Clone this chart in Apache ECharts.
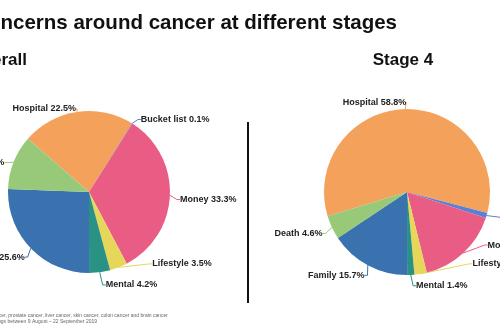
<!DOCTYPE html>
<html>
<head>
<meta charset="utf-8">
<script src="https://cdn.jsdelivr.net/npm/echarts@6/dist/echarts.min.js"></script>
<style>html,body{margin:0;padding:0;background:#fff}#c{width:500px;height:330px}</style>
</head>
<body>
<div id="c"></div>
<script>
var categoriesOverall = ['Hospital', 'Bucket list', 'Money', 'Lifestyle', 'Mental', 'Family', 'Death'];
var valuesOverall = [22.5, 0.1, 33.3, 3.5, 4.2, 25.6, 10.8];
var categoriesStage4 = ['Hospital', 'Bucket list', 'Money', 'Lifestyle', 'Mental', 'Family', 'Death'];
var valuesStage4 = [58.8, 1.0, 16.1, 2.4, 1.4, 15.7, 4.6];
var sliceColors = {
  'Hospital': '#F4A25B', 'Bucket list': '#5A7FD6', 'Money': '#E95D85',
  'Lifestyle': '#E6D75A', 'Mental': '#2A9185', 'Family': '#3A72B0', 'Death': '#98C978'
};
var titleText = 'Concerns around cancer at different stages';
var subtitleOverall = 'Overall';
var subtitleStage4 = 'Stage 4';
var footnote1 = 'cer, stomach cancer, prostate cancer, liver cancer, skin cancer, colon cancer and brain cancer';
var footnote2 = 'forums, blogs between 9 August \u2013 22 September 2019';

// label offsets (style config, not data)
var labelNudgeOverall = { 'Hospital': [5, 4], 'Bucket list': [0, 2], 'Money': [0, 4], 'Lifestyle': [17, -10], 'Family': [4, 4], 'Death': [2, 3] };
var labelNudgeStage4 = { 'Hospital': [6, 0], 'Death': [2, 3], 'Family': [5, 4], 'Mental': [0, -6], 'Lifestyle': [21, -17], 'Money': [10, -13], 'Bucket list': [8, 0] };

function toData(cats, vals) {
  return cats.map(function (c, i) {
    return { name: c, value: vals[i], itemStyle: { color: sliceColors[c] } };
  });
}
var font = '"Liberation Sans", Arial, sans-serif';
function pieSeries(cats, vals, center, radius, startAngle, nudge) {
  return {
    type: 'pie',
    center: center,
    radius: radius,
    startAngle: startAngle,
    clockwise: true,
    data: toData(cats, vals),
    itemStyle: { borderWidth: 0 },
    label: {
      formatter: '{b} {c}%',
      overflow: 'none',
      distanceToLabelLine: 2,
      fontFamily: font, fontWeight: 'bold', fontSize: 9, color: '#222'
    },
    labelLine: { length: 7, length2: 3, lineStyle: { width: 1 } },
    labelLayout: function (p) {
      var n = nudge[cats[p.dataIndex]] || [0, 0];
      var r = p.labelRect;
      return { x: r.x + n[0], y: r.y + n[1], align: 'left', verticalAlign: 'top' };
    },
    emphasis: { disabled: true },
    animation: false
  };
}
var chart = echarts.init(document.getElementById('c'), null, { renderer: 'canvas' });
chart.setOption({
  animation: false,
  graphic: [
    { type: 'text', x: 397, y: 23, style: { text: titleText, textAlign: 'right', textVerticalAlign: 'middle', font: 'bold 20.5px ' + font, fill: '#111' } },
    { type: 'text', x: 27, y: 60, style: { text: subtitleOverall, textAlign: 'right', textVerticalAlign: 'middle', font: 'bold 17px ' + font, fill: '#111' } },
    { type: 'text', x: 403, y: 60, style: { text: subtitleStage4, textAlign: 'center', textVerticalAlign: 'middle', font: 'bold 17px ' + font, fill: '#111' } },
    { type: 'line', shape: { x1: 248, y1: 122, x2: 248, y2: 303 }, style: { stroke: '#111', lineWidth: 2 } },
    { type: 'text', x: 168, y: 316, style: { text: footnote1, textAlign: 'right', textVerticalAlign: 'middle', font: '5px ' + font, fill: '#666' } },
    { type: 'text', x: 97, y: 321.5, style: { text: footnote2, textAlign: 'right', textVerticalAlign: 'middle', font: '5px ' + font, fill: '#666' } }
  ],
  series: [
    pieSeries(categoriesOverall, valuesOverall, [89, 192], 81, 139, labelNudgeOverall),
    pieSeries(categoriesStage4, valuesStage4, [407, 192], 83, 197, labelNudgeStage4)
  ]
});
</script>
</body>
</html>
